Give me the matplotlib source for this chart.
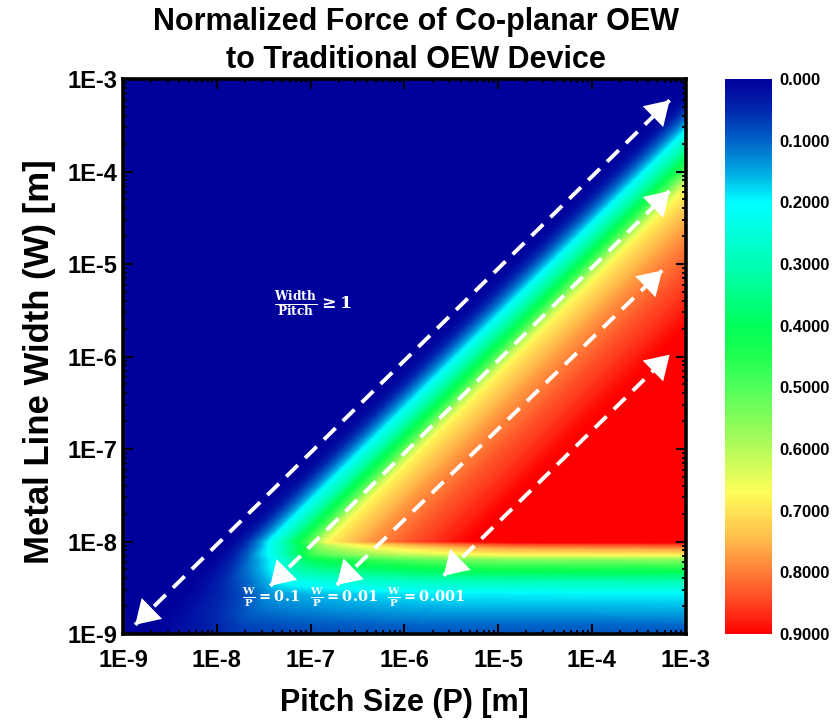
import numpy as np
import matplotlib
matplotlib.use("Agg")
from matplotlib import pyplot as plt
from matplotlib.colors import LinearSegmentedColormap
from matplotlib.ticker import FixedLocator, LogLocator, NullFormatter

plt.rcParams['font.family'] = ['Liberation Sans', 'DejaVu Sans']
plt.rcParams['font.weight'] = 'bold'
plt.rcParams['mathtext.fontset'] = 'dejavuserif'

# normalized force read along the diagonal bands: log10(W/P) -> force
ratio_log = [-6.0, -3.2, -2.7, -2.4, -2.1, -1.8, -1.6, -1.4, -1.2, -1.1, -1.0,
             -0.85, -0.7, -0.55, -0.5, -0.4, -0.3, -0.2, -0.1, 0.0, 6.0]
ratio_force = [0.95, 0.93, 0.90, 0.87, 0.84, 0.80, 0.77, 0.73, 0.68, 0.62, 0.52,
               0.40, 0.29, 0.20, 0.16, 0.10, 0.05, 0.015, 0.004, 0.0, 0.0]

# fall-off below W = 10 nm (read at large pitch): log10(W) -> factor
width_log = [-9.0, -8.92, -8.74, -8.56, -8.42, -8.29, -8.2, -8.13, -8.08, -8.03, -8.0, -3.0]
width_factor = [0.095, 0.105, 0.16, 0.21, 0.32, 0.47, 0.58, 0.74, 0.81, 0.90, 1.0, 1.0]

decades = [-9, -8, -7, -6, -5, -4, -3]
tick_labels = ["1E-9", "1E-8", "1E-7", "1E-6", "1E-5", "1E-4", "1E-3"]

cbar_ticks = [0.0, 0.1, 0.2, 0.3, 0.4, 0.5, 0.6, 0.7, 0.8, 0.9]
cbar_labels = ["0.000", "0.1000", "0.2000", "0.3000", "0.4000", "0.5000",
               "0.6000", "0.7000", "0.8000", "0.9000"]

# dashed arrows: (log10 P, log10 W) of both tips
arrows = [
    ((-8.87, -8.90), (-3.17, -3.23)),
    ((-7.43, -8.48), (-3.17, -4.21)),
    ((-6.72, -8.47), (-3.25, -5.07)),
    ((-5.58, -8.37), (-3.17, -5.98)),
]

# W/P labels: (text, log10 P of left edge)
ratio_labels = [
    (r'$\mathbf{\frac{W}{P}=0.1}$', -7.73),
    (r'$\mathbf{\frac{W}{P}=0.01}$', -7.01),
    (r'$\mathbf{\frac{W}{P}=0.001}$', -6.18),
]

stops = [
    (0.00, (0, 0, 155)), (0.05, (0, 40, 175)), (0.10, (0, 100, 200)),
    (0.15, (0, 170, 228)), (0.20, (0, 255, 255)), (0.30, (0, 255, 180)),
    (0.40, (0, 255, 90)), (0.45, (30, 255, 80)), (0.50, (80, 255, 90)),
    (0.60, (180, 250, 90)), (0.67, (255, 255, 90)), (0.75, (255, 185, 75)),
    (0.80, (255, 125, 55)), (0.85, (255, 70, 35)), (0.90, (255, 0, 0)),
]
cmap = LinearSegmentedColormap.from_list(
    "oew", [(v / 0.9, tuple(c / 255 for c in rgb)) for v, rgb in stops])

fig = plt.figure(figsize=(8.33, 7.25), dpi=100)
ax = fig.add_axes([0.1477, 0.1255, 0.6753, 0.7655])

lp = np.linspace(-9, -3, 481)
lw = np.linspace(-9, -3, 481)
LP, LW = np.meshgrid(lp, lw)
force = np.interp(LW - LP, ratio_log, ratio_force) * np.interp(LW, width_log, width_factor)

mesh = ax.pcolormesh(10.0 ** LP, 10.0 ** LW, force, cmap=cmap, vmin=0, vmax=0.9,
                     shading='gouraud', rasterized=True)
ax.set_xscale('log')
ax.set_yscale('log')
ax.set_xlim(1e-9, 1e-3)
ax.set_ylim(1e-9, 1e-3)

for axis in (ax.xaxis, ax.yaxis):
    axis.set_major_locator(FixedLocator([10.0 ** d for d in decades]))
    axis.set_minor_locator(LogLocator(base=10, subs=range(2, 10), numticks=20))
    axis.set_minor_formatter(NullFormatter())
ax.set_xticklabels(tick_labels)
ax.set_yticklabels(tick_labels)
ax.tick_params(which='both', direction='in', top=True, right=True, colors='black')
ax.tick_params(which='major', length=7, width=1.5, labelsize=17)
ax.tick_params(axis='x', which='major', pad=11)
ax.tick_params(axis='y', which='major', pad=4)
ax.tick_params(which='minor', length=3, width=1.3)
for sp in ax.spines.values():
    sp.set_linewidth(2.6)

ax.set_xlabel("Pitch Size (P) [m]", fontsize=22, fontweight='bold', labelpad=11)
ax.set_ylabel("Metal Line Width (W) [m]", fontsize=25, fontweight='bold')
ax.yaxis.set_label_coords(-0.119, 0.49)

for (p0, w0), (p1, w1) in arrows:
    ax.plot([10 ** p0, 10 ** p1], [10 ** w0, 10 ** w1], color='white', lw=2.8,
            linestyle=(0, (4.2, 2.6)), dash_capstyle='butt', zorder=3)
    for (pa, wa), (pb, wb) in (((p0, w0), (p1, w1)), ((p1, w1), (p0, w0))):
        t = 0.05
        back = (pa + (pb - pa) * t, wa + (wb - wa) * t)
        ax.annotate('', xy=(10 ** pa, 10 ** wa), xytext=(10 ** back[0], 10 ** back[1]),
                    arrowprops=dict(arrowstyle='-|>,head_length=0.8,head_width=0.5',
                                    color='white', lw=0, mutation_scale=21,
                                    shrinkA=0, shrinkB=0), zorder=4)

ax.text(10 ** -6.97, 10 ** -5.43, r'$\mathbf{\frac{Width}{Pitch}}\geq\mathbf{1}$',
        color='white', fontsize=12.5, ha='center', va='center')
for txt, lpl in ratio_labels:
    ax.text(10 ** lpl, 10 ** -8.6, txt, color='white', fontsize=10.5,
            ha='left', va='center')

fig.text(416 / 833, 1 - 22 / 725, "Normalized Force of Co-planar OEW",
         fontsize=22, fontweight='bold', ha='center', va='center')
fig.text(416 / 833, 1 - 60 / 725, "to Traditional OEW Device",
         fontsize=22, fontweight='bold', ha='center', va='center')

cax = fig.add_axes([725 / 833, 0.1255, 47 / 833, 0.7655])
cb = fig.colorbar(mesh, cax=cax)
cb.outline.set_visible(False)
cax.invert_yaxis()
cb.set_ticks(cbar_ticks)
cb.set_ticklabels(cbar_labels)
cax.tick_params(length=0, labelsize=12, pad=5)
cax.minorticks_off()

fig.savefig("out.png", dpi=100)
